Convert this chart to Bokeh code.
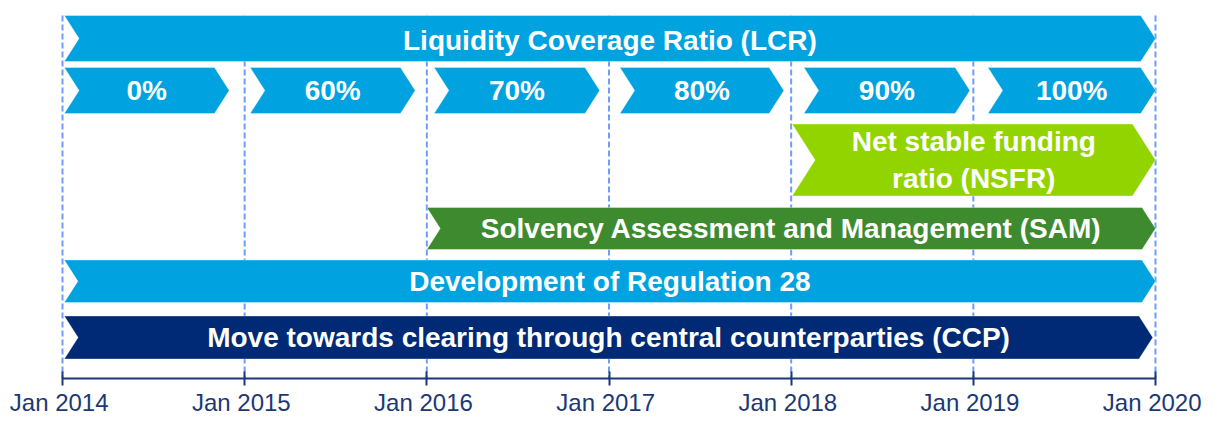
from bokeh.plotting import figure
from bokeh.models import Range1d, FixedTicker
from bokeh.core.properties import value
from bokeh.embed import file_html
from bokeh.resources import INLINE

# ---------------- data ----------------
years = [2014, 2015, 2016, 2017, 2018, 2019, 2020]
year_labels = ["Jan 2014", "Jan 2015", "Jan 2016", "Jan 2017", "Jan 2018", "Jan 2019", "Jan 2020"]

# phase-in chevrons for the LCR (start / end in years)
lcr_steps = ["0%", "60%", "70%", "80%", "90%", "100%"]
lcr_step_start = [2014.01, 2015.03, 2016.04, 2017.06, 2018.07, 2019.08]
lcr_step_end = [2014.915, 2015.936, 2016.949, 2017.96, 2018.981, 2020.0]

# long initiatives
bars = ["Liquidity Coverage Ratio (LCR)",
        "Net stable funding\nratio (NSFR)",
        "Solvency Assessment and Management (SAM)",
        "Development of Regulation 28",
        "Move towards clearing through central counterparties (CCP)"]
bar_start = [2014.01, 2018.005, 2016.0, 2014.01, 2014.01]
bar_end = [2020.0, 2020.0, 2020.0, 2020.0, 2019.985]
bar_lane = ["LCR", "NSFR", "SAM", "REG28", "CCP"]

# ---------------- layout / style ----------------
W, H = 1209, 416
X0_PX = 62.0                      # frame px of Jan 2014
X1_PX = 1155.0                    # frame px of Jan 2020
PX_PER_YEAR = (X1_PX - X0_PX) / (years[-1] - years[0])
x_start = years[0] - X0_PX / PX_PER_YEAR
x_end = x_start + W / PX_PER_YEAR

# lanes: (top, bottom) in pixel units, y axis runs downward
lanes = {
    "LCR": (15.0, 61.0),
    "STEPS": (67.0, 113.0),
    "NSFR": (123.5, 195.5),
    "SAM": (207.0, 249.0),
    "REG28": (259.5, 302.0),
    "CCP": (315.5, 358.5),
}
lane_color = {
    "LCR": "#00A3E0", "STEPS": "#00A3E0", "NSFR": "#92D400",
    "SAM": "#3E8A2F", "REG28": "#00A3E0", "CCP": "#002A75",
}
text_dy = {"LCR": 2.0}
AXIS_Y = 378.0
NAVY = "#1C3875"
DASH = "#6E9CFF"
FONT = value("Liberation Sans")
FS = "28px"


def chevron(x0, x1, top, bot):
    half = (bot - top) / 2.0
    d = 0.64 * half / PX_PER_YEAR
    mid = (top + bot) / 2.0
    xs = [x0, x1 - d, x1, x1 - d, x0, x0 + d]
    ys = [top, top, mid, bot, bot, mid]
    return xs, ys


p = figure(width=W, height=H, output_backend="svg", toolbar_location=None,
           x_range=Range1d(x_start, x_end), y_range=Range1d(H, 0),
           y_axis_location=None, min_border=0, min_border_left=0,
           min_border_right=0, min_border_top=0, min_border_bottom=0)
p.outline_line_color = None
p.xgrid.visible = False
p.ygrid.visible = False
p.background_fill_color = "white"
p.border_fill_color = "white"

# dashed year lines
p.segment(x0=years, x1=years, y0=[lanes["LCR"][0]] * len(years), y1=[AXIS_Y] * len(years),
          line_color=DASH, line_width=2, line_dash="6 3")

# build shapes
xs_all, ys_all, cols = [], [], []
for lab, s, e, lane in zip(bars, bar_start, bar_end, bar_lane):
    top, bot = lanes[lane]
    xs, ys = chevron(s, e, top, bot)
    xs_all.append(xs); ys_all.append(ys); cols.append(lane_color[lane])
for lab, s, e in zip(lcr_steps, lcr_step_start, lcr_step_end):
    top, bot = lanes["STEPS"]
    xs, ys = chevron(s, e, top, bot)
    xs_all.append(xs); ys_all.append(ys); cols.append(lane_color["STEPS"])

p.patches(xs=xs_all, ys=ys_all, fill_color=cols, line_color="white", line_alpha=0.35, line_width=1)

# single-line labels
tx, ty, tt = [], [], []
for lab, s, e, lane in zip(bars, bar_start, bar_end, bar_lane):
    if lane == "NSFR":
        continue
    top, bot = lanes[lane]
    tx.append((s + e) / 2.0); ty.append((top + bot) / 2.0 + text_dy.get(lane, 0.0)); tt.append(lab)
for lab, s, e in zip(lcr_steps, lcr_step_start, lcr_step_end):
    top, bot = lanes["STEPS"]
    tx.append((s + e) / 2.0); ty.append((top + bot) / 2.0); tt.append(lab)

p.text(x=tx, y=ty, text=tt, text_align="center", text_baseline="middle",
       text_color="white", text_font=FONT, text_font_style="bold", text_font_size=FS)

# two-line NSFR label
i = bar_lane.index("NSFR")
top, bot = lanes["NSFR"]
p.text(x=[(bar_start[i] + bar_end[i]) / 2.0], y=[(top + bot) / 2.0], text=[bars[i]],
       text_align="center", text_baseline="middle", text_line_height=1.2,
       text_color="white", text_font=FONT, text_font_style="bold", text_font_size=FS)

# x axis
ax = p.xaxis[0]
ax.fixed_location = AXIS_Y
ax.bounds = (years[0], years[-1])
ax.ticker = FixedTicker(ticks=years)
ax.major_label_overrides = {y: lbl + "\u00a0" for y, lbl in zip(years, year_labels)}
ax.axis_line_color = NAVY
ax.axis_line_width = 2
ax.major_tick_line_color = NAVY
ax.major_tick_line_width = 2
ax.major_tick_in = 7
ax.major_tick_out = 7
ax.minor_tick_line_color = None
ax.major_label_standoff = 3
ax.major_label_text_font = "Liberation Sans"
ax.major_label_text_font_size = "24px"
ax.major_label_text_color = NAVY

open("out.html", "w").write(file_html(p, INLINE))
